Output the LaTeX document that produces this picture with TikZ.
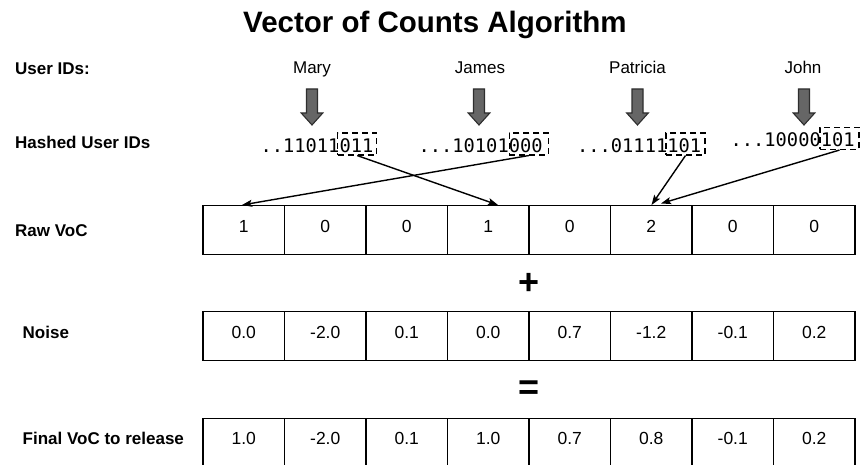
\documentclass[tikz,border=0pt]{standalone}
\usepackage{fontspec}
\setmainfont{Liberation Sans}
\newfontfamily\hashfont{DejaVu Sans Mono}
\usetikzlibrary{arrows.meta}
\definecolor{blockfill}{HTML}{666666}
\definecolor{blockline}{HTML}{2E2E2E}
\begin{document}
\begin{tikzpicture}[x=1pt,y=-1pt,
  title/.style={font=\fontsize{29.5}{32}\selectfont\bfseries, inner sep=0pt},
  rowlabel/.style={font=\fontsize{17}{20}\selectfont\bfseries, inner sep=0pt, anchor=base west},
  username/.style={font=\fontsize{17}{20}\selectfont, inner sep=0pt, anchor=base},
  hash/.style={font=\fontsize{18.7}{22}\selectfont\hashfont, inner sep=0pt, anchor=base west},
  bitbox/.style={draw, line width=1.1pt, dash pattern=on 6pt off 4pt, minimum width=39pt, minimum height=22pt, inner sep=0pt},
  cell/.style={draw, line width=1.3pt, minimum width=81.5pt, minimum height=48.5pt, inner sep=0pt,
    text height=12.5pt, text depth=8pt, font=\fontsize{17.5}{20}\selectfont},
  op/.style={font=\fontsize{36}{36}\selectfont\bfseries, inner sep=0pt},
  blockarrow/.style={fill=blockfill, draw=blockline, line width=1.1pt, line join=miter},
  mapto/.style={line width=1.4pt, -{Stealth[length=10pt, width=7pt, inset=2pt]}}
]
\useasboundingbox (0,0) rectangle (862,465);
\clip (0,0) rectangle (862,465);

% heading
\node[title, anchor=base west] (heading) at (243,33) {Vector of Counts Algorithm};

% row labels
\node[rowlabel] (lblusers)  at (15,75)    {User IDs:};
\node[rowlabel] (lblhashed) at (15,149)   {Hashed User IDs};
\node[rowlabel] (lblraw)    at (15,236.5) {Raw VoC};
\node[rowlabel] (lblnoise)  at (22.5,338) {Noise};
\node[rowlabel] (lblfinal)  at (22.5,444) {Final VoC to release};

% user names
\node[username] (nmary)     at (312,73.5)   {Mary};
\node[username] (njames)    at (480,73.5)   {James};
\node[username] (npatricia) at (637.5,73.5) {Patricia};
\node[username] (njohn)     at (803,73.5)   {John};

% hashing arrows (block arrows pointing down)
\foreach \cx in {312,479,637.5,804} {
  \draw[blockarrow] (\cx-5.5,89) -- (\cx+5.5,89) -- (\cx+5.5,113) -- (\cx+10.8,113)
    -- (\cx,125) -- (\cx-10.8,113) -- (\cx-5.5,113) -- cycle;
}

% hashed ids
\node[hash] (hmary)     at (260.5,153) {..11011011};
\node[hash] (hjames)    at (418.5,153) {...10101000};
\node[hash] (hpatricia) at (577,153)   {...01111101};
\node[hash] (hjohn)     at (730.5,146.5) {...10000101};

% low-order bits selecting the bucket
\node[bitbox] (bmary)     at (357.2,144) {};
\node[bitbox] (bjames)    at (528.8,144) {};
\node[bitbox] (bpatricia) at (685.5,144) {};
\node[bitbox] (bjohn)     at (839.5,138.5) {};

% vectors
\foreach \v [count=\i from 0] in {1,0,0,1,0,2,0,0}
  \node[cell] (raw\i) at (243.75+81.5*\i,230) {\v};
\foreach \v [count=\i from 0] in {0.0,-2.0,0.1,0.0,0.7,-1.2,-0.1,0.2}
  \node[cell] (noise\i) at (243.75+81.5*\i,336) {\v};
\foreach \v [count=\i from 0] in {1.0,-2.0,0.1,1.0,0.7,0.8,-0.1,0.2}
  \node[cell] (final\i) at (243.75+81.5*\i,442.5) {\v};

% operators
\node[op] (plus)   at (529,284) {+};
\node[op] (equals) at (529,390) {=};

% bucket targets on the raw vector
\coordinate (tmary)     at (498,205);
\coordinate (tjames)    at (242,205);
\coordinate (tpatricia) at (651.5,205);
\coordinate (tjohn)     at (661,203.5);

\draw[mapto] (bmary.south)     -- (tmary);
\draw[mapto] (bjames.south)    -- (tjames);
\draw[mapto] (bpatricia.south) -- (tpatricia);
\draw[mapto] (bjohn.south)     -- (tjohn);
\end{tikzpicture}
\end{document}
